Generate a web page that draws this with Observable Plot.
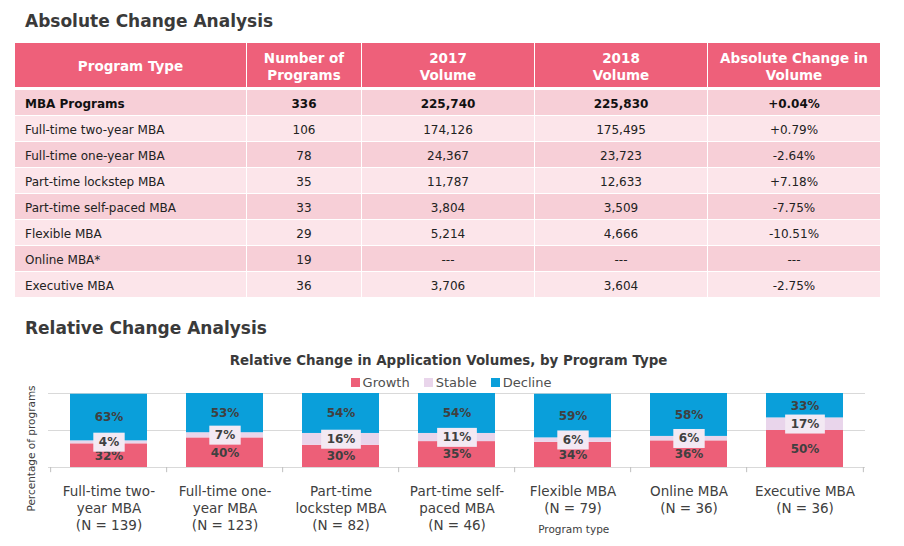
<!DOCTYPE html>
<html><head><meta charset="utf-8">
<script src="https://cdn.jsdelivr.net/npm/d3@7"></script>
<script src="https://cdn.jsdelivr.net/npm/@observablehq/plot@0.6"></script>
<style>
html,body{margin:0;padding:0;background:#fff;}
body{width:904px;height:546px;position:relative;overflow:hidden;font-family:"DejaVu Sans",sans-serif;}
.h{position:absolute;left:25px;font-weight:bold;font-size:17px;line-height:17px;color:#3a3a3a;white-space:nowrap;}
#tbl{position:absolute;left:15px;top:43px;display:grid;grid-template-columns:231px 115px 173px 173px 173px;}
.c{box-sizing:border-box;display:flex;align-items:center;justify-content:center;font-size:12px;line-height:12px;color:#222;border-bottom:1px solid #fff;height:26px;white-space:nowrap;padding-top:3px;}
.c.l{justify-content:flex-start;padding-left:10px;}
.c.s{border-left:1px solid #fff;}
.c.b{font-weight:bold;color:#111;}
.c.hd{height:47px;border-bottom:3px solid #fff;background:#EE607A;color:#fff;font-weight:bold;font-size:13.5px;line-height:17px;text-align:center;justify-content:center;padding:3px 0 0 0;}
#ctitle{position:absolute;left:0;width:897px;top:354px;text-align:center;font-weight:bold;font-size:13.4px;line-height:13.5px;color:#3a3a3a;white-space:nowrap;}
#legend{position:absolute;left:0;width:902px;top:376px;display:flex;justify-content:center;font-size:13px;line-height:13px;color:#505050;}
#legend .it{display:flex;align-items:baseline;margin:0 7px;}
#legend .sw{display:inline-block;width:9px;height:9px;margin-right:3px;}
#chart{position:absolute;left:0;top:388px;}
</style></head>
<body>
<div class="h" style="top:13px">Absolute Change Analysis</div>
<div id="tbl"></div>
<div class="h" style="top:320px">Relative Change Analysis</div>
<div id="ctitle">Relative Change in Application Volumes, by Program Type</div>
<div id="legend"></div>
<div id="chart"></div>
<script>
// ---- Table data ----
const tableHeaders = ["Program Type", "Number of<br>Programs", "2017<br>Volume", "2018<br>Volume", "Absolute Change in<br>Volume"];
const programTypes = ["MBA Programs", "Full-time two-year MBA", "Full-time one-year MBA", "Part-time lockstep MBA", "Part-time self-paced MBA", "Flexible MBA", "Online MBA*", "Executive MBA"];
const numPrograms = ["336", "106", "78", "35", "33", "29", "19", "36"];
const vol2017 = ["225,740", "174,126", "24,367", "11,787", "3,804", "5,214", "---", "3,706"];
const vol2018 = ["225,830", "175,495", "23,723", "12,633", "3,509", "4,666", "---", "3,604"];
const absChange = ["+0.04%", "+0.79%", "-2.64%", "+7.18%", "-7.75%", "-10.51%", "---", "-2.75%"];

// ---- Chart data ----
const categories = ["Full-time two-year MBA", "Full-time one-year MBA", "Part-time lockstep MBA", "Part-time self-paced MBA", "Flexible MBA", "Online MBA", "Executive MBA"];
const tickLabels = ["Full-time two-\nyear MBA\n(N = 139)", "Full-time one-\nyear MBA\n(N = 123)", "Part-time\nlockstep MBA\n(N = 82)", "Part-time self-\npaced MBA\n(N = 46)", "Flexible MBA\n(N = 79)", "Online MBA\n(N = 36)", "Executive MBA\n(N = 36)"];
const seriesNames = ["Growth", "Stable", "Decline"];
const growth = [32, 40, 30, 35, 34, 36, 50];
const stable = [4, 7, 16, 11, 6, 6, 17];
const decline = [63, 53, 54, 54, 59, 58, 33];
const seriesColors = ["#ED5F78", "#E9D5EB", "#0A9FDA"];

// ---- Build table ----
const tbl = document.getElementById("tbl");
const rowBg = ["#F7CFD7", "#FCE5EA"];
tableHeaders.forEach((h, j) => {
  const d = document.createElement("div");
  d.className = "c hd" + (j > 0 ? " s" : "");
  d.innerHTML = h;
  tbl.appendChild(d);
});
programTypes.forEach((p, i) => {
  const vals = [p, numPrograms[i], vol2017[i], vol2018[i], absChange[i]];
  vals.forEach((v, j) => {
    const d = document.createElement("div");
    d.className = "c" + (j === 0 ? " l" : " s") + (i === 0 ? " b" : "");
    d.style.background = rowBg[i % 2];
    d.textContent = v;
    tbl.appendChild(d);
  });
});

// ---- Legend ----
const legend = document.getElementById("legend");
seriesNames.forEach((s, i) => {
  const it = document.createElement("div");
  it.className = "it";
  it.innerHTML = `<span class="sw" style="background:${seriesColors[i]}"></span><span>${s}</span>`;
  legend.appendChild(it);
});

// ---- Chart ----
const data = categories.flatMap((c, i) => [
  {cat: c, series: "Growth", value: growth[i]},
  {cat: c, series: "Stable", value: stable[i]},
  {cat: c, series: "Decline", value: decline[i]}
]);
const W = 904, H = 158, mL = 48, mR = 39, mT = 5, mB = 79;
const step = (W - mL - mR) / categories.length;
const svg = Plot.plot({
  width: W, height: H, marginLeft: mL, marginRight: mR, marginTop: mT, marginBottom: mB,
  style: {fontFamily: "DejaVu Sans", color: "#404040", background: "none", overflow: "visible"},
  x: {domain: categories, paddingInner: 0.335, paddingOuter: 0.1675, label: null},
  y: {domain: [0, 100], axis: null},
  color: {domain: seriesNames, range: seriesColors},
  marks: [
    Plot.ruleY([0, 50, 100], {stroke: "#D9D9D9", strokeWidth: 1}),
    Plot.ruleX(categories, {x: d => d, y1: 0, y2: -7, dx: -step / 2, stroke: "#BFBFBF"}),
    Plot.ruleX([categories[categories.length - 1]], {x: d => d, y1: 0, y2: -7, dx: step / 2, stroke: "#BFBFBF"}),
    Plot.barY(data, {x: "cat", y: "value", fill: "series", z: "series"}),
    Plot.text(data, Plot.stackY({x: "cat", y: "value", z: "series",
      text: d => d.series !== "Stable" ? d.value + "%" : null,
      fontWeight: "bold", fontSize: 12, fill: "#404040"})),
    Plot.text(data, Plot.stackY({x: "cat", y: "value", z: "series",
      text: d => d.series === "Stable" ? d.value + "%" : null,
      fontWeight: "bold", fontSize: 12, fill: "#404040", fontStyle: "normal"})),
    Plot.axisX({tickSize: 0, tickPadding: 16, fontSize: 13.5, lineHeight: 1.28,
      tickFormat: d => tickLabels[categories.indexOf(d)]}),
    Plot.text(["Percentage of programs"], {text: d => d, frameAnchor: "left", textAnchor: "middle", lineAnchor: "middle", rotate: -90, dx: -17, dy: 18, fontSize: 10.5, fill: "#404040"}),
    Plot.text(["Program type"], {text: d => d, frameAnchor: "bottom", lineAnchor: "middle", dx: step, dy: 62.6, fontSize: 10.5, fill: "#404040"})
  ]
});
document.getElementById("chart").appendChild(svg);

// label background boxes for the "Stable" values
const g = svg.querySelector('g[font-style="normal"]');
if (g) {
  g.querySelectorAll("text").forEach(t => {
    const b = t.getBBox();
    const r = document.createElementNS("http://www.w3.org/2000/svg", "rect");
    r.setAttribute("x", b.x - 5.5);
    r.setAttribute("y", b.y - 2.5);
    r.setAttribute("width", b.width + 11);
    r.setAttribute("height", b.height + 5);
    r.setAttribute("fill", "#F3E9F3");
    const tr = t.getAttribute("transform");
    if (tr) r.setAttribute("transform", tr);
    t.parentNode.insertBefore(r, t);
  });
}
</script>
</body></html>
